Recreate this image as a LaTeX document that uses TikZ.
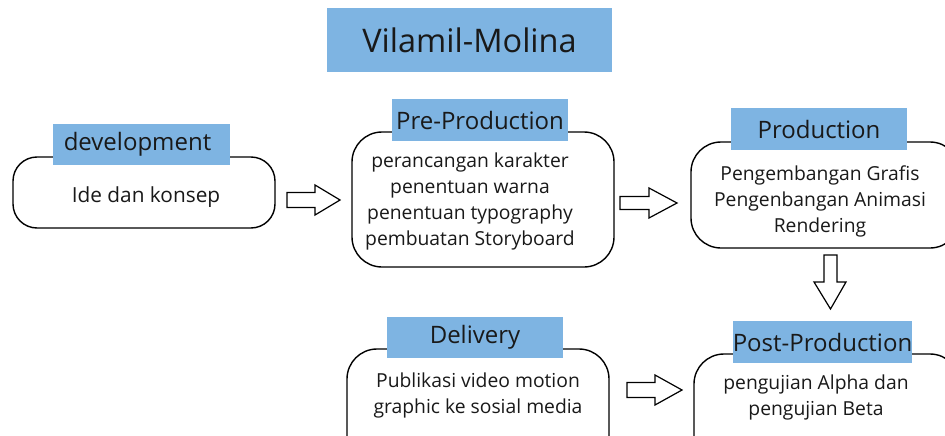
\documentclass[tikz,border=0pt]{standalone}
\usepackage{fontspec}
\setmainfont{Open Sans}
\usetikzlibrary{calc}
\definecolor{labelblue}{HTML}{7EB4E2}
\tikzset{
  stagebox/.style={draw=black, line width=1.4pt, rounded corners=24pt, fill=white},
  stagelabel/.style={fill=labelblue, inner sep=0pt, font=\fontsize{24}{27}\selectfont, text=black!90},
  bodytext/.style={align=center, font=\fontsize{19.3}{26}\selectfont, text=black!90},
  blockarrow/.style={draw=black, line width=1.2pt, fill=white, line join=miter},
}
\begin{document}
\begin{tikzpicture}[x=1pt,y=-1pt]
\useasboundingbox (0,0) rectangle (945,436);
\clip (0,0) rectangle (945,436);
% title
\node[fill=labelblue, minimum width=285, minimum height=64, inner sep=0, font=\fontsize{32.5}{36}\selectfont, text=black!90] (title) at (469.5,40) {Vilamil-Molina};
% development
\draw[stagebox] (13,157) rectangle (275,228);
\node[stagelabel, minimum width=177, minimum height=41] (devlab) at (141.5,144.5) {\hspace*{-8pt}development};
\node[bodytext, font=\fontsize{20.8}{26}\selectfont] (devtxt) at (146,197) {Ide dan konsep};
% pre-production
\draw[stagebox, rounded corners=30pt] (352,132) rectangle (614,267);
\node[stagelabel, minimum width=176, minimum height=42] (prelab) at (480,120) {Pre-Production};
\node[bodytext] (pretxt) at (470,201.5) {perancangan karakter\\penentuan warna\\penentuan typography\\pembuatan Storyboard};
% production
\draw[stagebox, rounded corners=30pt] (691,142) rectangle (960,248);
\node[stagelabel, minimum width=176, minimum height=42] (prolab) at (819,129) {Production};
\node[bodytext] (protxt) at (820,201) {Pengembangan Grafis\\Pengenbangan Animasi\\Rendering};
% post-production
\draw[stagebox, rounded corners=30pt] (694,354) rectangle (960,470);
\node[stagelabel, minimum width=177, minimum height=42] (postlab) at (822.5,342) {Post-Production};
\node[bodytext] (posttxt) at (816,397) {pengujian Alpha dan\\pengujian Beta};
% delivery
\draw[stagebox, rounded corners=30pt] (347,349) rectangle (609,470);
\node[stagelabel, minimum width=176, minimum height=41] (dellab) at (475,337.5) {Delivery};
\node[bodytext] (deltxt) at (478,395) {Publikasi video motion\\graphic ke sosial media};
% block arrows
\draw[blockarrow] (287,192.5) -- (315,192.5) -- (315,185) -- (340,200) -- (315,215) -- (315,207.5) -- (287,207.5) -- cycle;
\draw[blockarrow] (620,196.5) -- (649,196.5) -- (649,188) -- (677,203) -- (649,218) -- (649,209.5) -- (620,209.5) -- cycle;
\draw[blockarrow] (627,382.5) -- (655,382.5) -- (655,375) -- (682,390) -- (655,405) -- (655,397.5) -- (627,397.5) -- cycle;
\draw[blockarrow] (824,255) -- (837,255) -- (837,282) -- (846,282) -- (830.5,309) -- (814,282) -- (824,282) -- cycle;
\end{tikzpicture}
\end{document}
